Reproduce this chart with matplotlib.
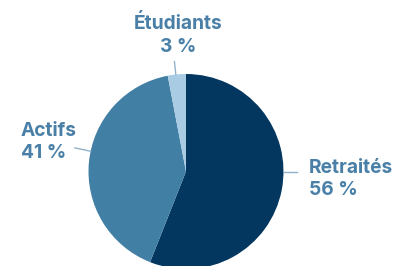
import numpy as np
import matplotlib
matplotlib.use("Agg")
import matplotlib.pyplot as plt

labels = ["Retraités", "Actifs", "Étudiants"]
shares = [56, 41, 3]
colors = ["#03375f", "#427fa5", "#a9cbe4"]

W, H = 395, 266
fig = plt.figure(figsize=(W / 100, H / 100), dpi=100)
ax = fig.add_axes([0, 0, 1, 1])

cx, cy, r = 186, H - 171.5, 97.5
ax.pie(shares, colors=colors, startangle=90, counterclock=False,
       center=(cx, cy), radius=r, frame=True,
       wedgeprops=dict(linewidth=0))
ax.set_xlim(0, W)
ax.set_ylim(0, H)
ax.axis("off")

txt_color = "#4a80a7"
line_color = "#8fb2cc"
font = dict(family=["Inter", "DejaVu Sans"], fontweight="bold", fontsize=13.8, color=txt_color)

# (label idx, leader angle deg, leader length, text x, text y, ha)
placement = [
    (0, 0, 13, 309, H - 179, "left"),
    (1, 168, 16, 21, H - 142, "left"),
    (2, 96, 13, 178, H - 35, "center"),
]
for i, ang, ln, tx, ty, ha in placement:
    a = np.deg2rad(ang)
    x0, y0 = cx + r * np.cos(a), cy + r * np.sin(a)
    x1, y1 = cx + (r + ln) * np.cos(a), cy + (r + ln) * np.sin(a)
    ax.plot([x0, x1], [y0, y1], color=line_color, lw=1)
    ax.text(tx, ty, f"{labels[i]}\n{shares[i]} %", ha=ha, va="center",
            linespacing=1.35, **font)

fig.savefig("out.png", dpi=100)
